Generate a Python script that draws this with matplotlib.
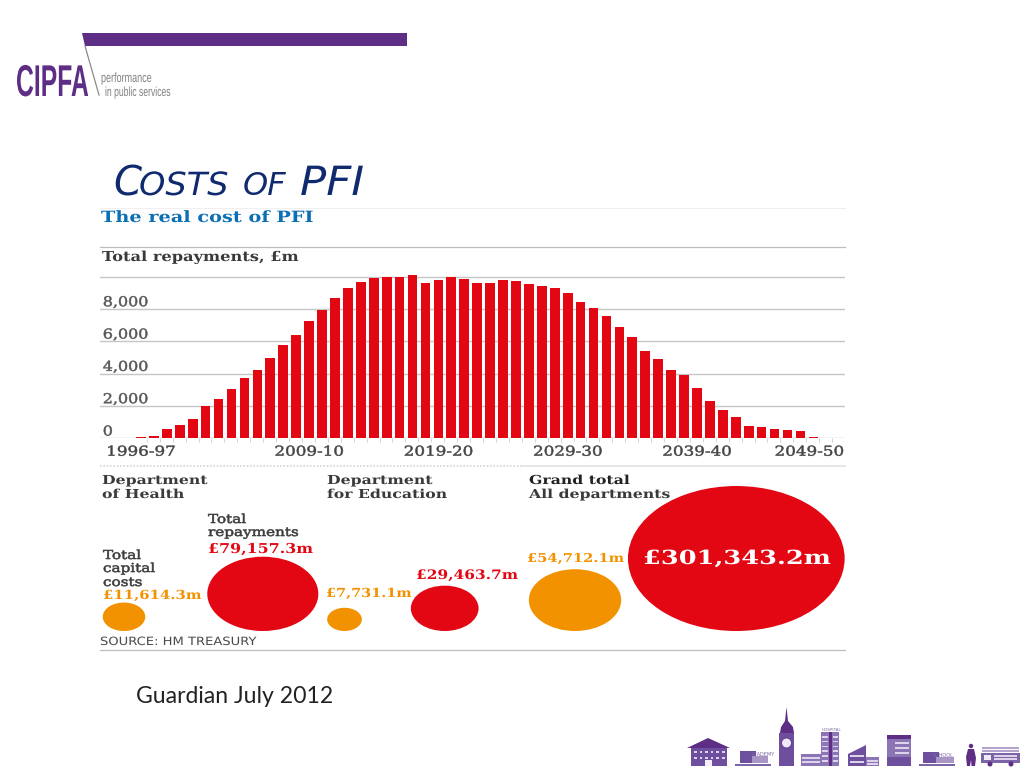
import matplotlib
matplotlib.use("Agg")
import matplotlib.pyplot as plt
from matplotlib.patches import Ellipse, Polygon, Rectangle, Circle
from matplotlib.patheffects import AbstractPathEffect
from matplotlib.transforms import Affine2D, ScaledTranslation
import numpy as np

# ---- data ----
repayments = [50, 150, 600, 850, 1200, 2000, 2430, 3030, 3710, 4200, 4970, 5750, 6410, 7260,
              7960, 8680, 9280, 9650, 9900, 9980, 9960, 10100, 9610, 9790, 9960, 9860, 9630, 9640,
              9790, 9750, 9530, 9420, 9300, 9010, 8460, 8045, 7570, 6910, 6255, 5410, 4900, 4200,
              3910, 3130, 2280, 1770, 1340, 760, 680, 580, 530, 470, 50, 20]
year_labels = ["1996-97", "2009-10", "2019-20", "2029-30", "2039-40", "2049-50"]
year_label_bars = [0, 13, 23, 33, 43, 53]
y_labels = ["0", "2,000", "4,000", "6,000", "8,000", ""]
y_ticks = [0, 2000, 4000, 6000, 8000, 10000]
bubble_values = [11614.3, 79157.3, 7731.1, 29463.7, 54712.1, 301343.2]
bubble_labels = ["£11,614.3m", "£79,157.3m", "£7,731.1m", "£29,463.7m", "£54,712.1m", "£301,343.2m"]

# ---- layout / style ----
RED = "#e30613"
ORANGE = "#f39200"
BLUE = "#0b6fb3"
INK = "#3a3a3a"
PURPLE = "#5e2d86"
SLATE = "#6d4f9e"
NAVY = "#0f2a6e"
SERIF = "DejaVu Serif"
LOGO = "Liberation Sans"
W, H = 1024, 768
bubble_kinds = [ORANGE, RED, ORANGE, RED, ORANGE, RED]
bubble_centres = [124, 262.8, 344.5, 444.7, 575, 736.3]
bubble_floor = 631
k_w, k_h = 0.3947, 0.2641


class Stretch(AbstractPathEffect):
    """Stretch real text, as the source graphic was stretched; optional slight emboldening."""

    def __init__(self, sx=1.0, sy=1.0, centre=False, lw=0.0):
        super().__init__()
        self.sx, self.sy, self.centre, self.lw = sx, sy, centre, lw

    def draw_path(self, renderer, gc, tpath, affine, rgbFace=None):
        cx = 0.0
        if self.centre and len(tpath.vertices):
            cx = 0.5 * (tpath.vertices[:, 0].min() + tpath.vertices[:, 0].max())
        pre = Affine2D().translate(-cx, 0).scale(self.sx, self.sy).translate(cx, 0)
        g = renderer.new_gc()
        g.copy_properties(gc)
        if self.lw:
            g.set_linewidth(self.lw)
            g.set_foreground(rgbFace)
        renderer.draw_path(g, tpath, pre + affine, rgbFace)
        g.restore()


fig = plt.figure(figsize=(W / 100, H / 100), dpi=100, facecolor="white")

# overlay in pixel coordinates
ov = fig.add_axes([0, 0, 1, 1], zorder=0)
ov.set_xlim(0, W)
ov.set_ylim(H, 0)
ov.axis("off")


def T(x, y, s, size=10, color=INK, weight="normal", family=SERIF, sx=1.0, sy=1.0, lw=0.0, **kw):
    kw.setdefault("ha", "left")
    kw.setdefault("va", "baseline")
    t = ov.text(x, y, s, fontsize=size, color=color, fontweight=weight, family=family, **kw)
    if sx != 1.0 or sy != 1.0 or lw:
        t.set_path_effects([Stretch(sx, sy, lw=lw)])
    return t


# ---- bar chart axes ----
left, right, base, top_val_px = 100, 845, 438.3, 276.7
px_per = (base - top_val_px) / 10000
ymax = 10500
top = base - ymax * px_per
ax = fig.add_axes([left / W, 1 - base / H, (right - left) / W, (base - top) / H], zorder=2)
ax.patch.set_alpha(0)
step, first = 12.93, 141
ax.set_xlim((left - first) / step, (right - first) / step)
ax.set_ylim(0, ymax)
ax.bar(range(len(repayments)), repayments, width=0.75, color=RED, linewidth=0, zorder=3)
for s in ax.spines.values():
    s.set_visible(False)
ax.set_yticks(y_ticks)
ax.set_yticklabels(y_labels, fontsize=9.8, family=SERIF, color="#555555", ha="left", va="baseline")
ax.tick_params(axis="y", length=0, pad=-2)
up = ScaledTranslation(0, 2.8 / 100, fig.dpi_scale_trans)
for lab in ax.get_yticklabels():
    lab.set_transform(lab.get_transform() + up)
    lab.set_path_effects([Stretch(1.17, lw=0.35)])
ax.grid(axis="y", color="#c6c6c6", linewidth=1.0, zorder=1)
ax.set_axisbelow(True)
ax.set_xticks(year_label_bars)
ax.set_xticklabels(year_labels, fontsize=9.8, family=SERIF, color="#444444", va="baseline")
ax.set_xticks(np.arange(len(repayments)) + 0.45, minor=True)
ax.tick_params(axis="x", which="major", length=0, pad=12.5)
ax.tick_params(axis="x", which="minor", length=3, width=0.7, color="#d4d4d4")
for lab in ax.get_xticklabels():
    lab.set_path_effects([Stretch(1.23, centre=True, lw=0.35)])
shift = ScaledTranslation(-17 / 100, 0, fig.dpi_scale_trans)
lab = ax.get_xticklabels()[-1]
lab.set_transform(lab.get_transform() + shift)

# ---- rules ----
ov.plot([100, 845], [207.5, 207.5], color="#efefef", lw=0.8)
ov.plot([100, 845], [246.7, 246.7], color="#bdbdbd", lw=0.9)
ov.plot([100, 522], [465.5, 465.5], color="#d5d5d5", lw=1.2, ls=(0, (1, 1)))
ov.plot([522, 845], [465.5, 465.5], color="#e6e6e6", lw=1.4)
ov.plot([100, 845], [649.7, 649.7], color="#bdbdbd", lw=0.9)

# ---- bubbles ----
for v, cx, c in zip(bubble_values, bubble_centres, bubble_kinds):
    w, h = k_w * np.sqrt(v), k_h * np.sqrt(v)
    ov.add_patch(Ellipse((cx, bubble_floor - h / 2), w, h, facecolor=c, edgecolor="none", zorder=2))

# ---- chart texts ----
T(101, 222, "The real cost of PFI", 11.2, BLUE, "bold", sx=1.24)
T(102, 261, "Total repayments, £m", 9.9, INK, "semibold", sx=1.18)
T(102, 484, "Department", 8.9, INK, "bold", sx=1.27)
T(102, 498, "of Health", 8.9, INK, "bold", sx=1.27)
T(327, 484, "Department", 8.9, INK, "bold", sx=1.27)
T(327, 498, "for Education", 8.9, INK, "bold", sx=1.27)
T(529, 484, "Grand total", 8.9, "#222222", "bold", sx=1.27)
T(529, 498, "All departments", 8.9, INK, "bold", sx=1.27)
T(208, 523, "Total", 8.9, INK, sx=1.23, lw=0.4)
T(208, 536, "repayments", 8.9, INK, sx=1.23, lw=0.4)
T(103, 559, "Total", 8.9, INK, sx=1.23, lw=0.4)
T(103, 572, "capital", 8.9, INK, sx=1.23, lw=0.4)
T(103, 586, "costs", 8.9, INK, sx=1.23, lw=0.4)
T(103, 599, bubble_labels[0], 9, ORANGE, "bold", sx=1.19)
T(208, 553, bubble_labels[1], 9.8, RED, "bold", sx=1.165)
T(326, 597, bubble_labels[2], 9, ORANGE, "bold", sx=1.155)
T(416, 579, bubble_labels[3], 9.4, RED, "bold", sx=1.18)
T(527, 562, bubble_labels[4], 8.8, ORANGE, "bold", sx=1.2)
T(643, 564, bubble_labels[5], 14, "white", "bold", sx=1.32, zorder=3)
T(100, 645, "SOURCE: HM TREASURY", 8.2, "#4a4a4a", family="DejaVu Sans", sx=1.15)

# ---- slide title / footer ----
OBL = dict(family="DejaVu Sans", style="oblique")
ov.text(113, 195, "C", fontsize=29, color=NAVY, **OBL)
ov.text(139, 195, "OSTS", fontsize=23, color=NAVY, path_effects=[Stretch(1.05)], **OBL)
ov.text(243, 195, "OF", fontsize=23, color=NAVY, **OBL)
ov.text(300, 195, "PFI", fontsize=29, color=NAVY, path_effects=[Stretch(1.08)], **OBL)
T(136, 703, "Guardian July 2012", 16.6, "#222222", family="Lato")

# ---- logo ----
ov.add_patch(Polygon([(82, 32.7), (407, 32.7), (407, 45.7), (85, 45.7)], facecolor=PURPLE, edgecolor="none"))
ov.plot([85, 99], [46, 95], color="#8a8a8a", lw=0.9)
T(16, 96, "CIPFA", 17.8, PURPLE, "bold", family=LOGO, sy=1.8)
T(101, 82, "performance", 6.5, "#808080", family=LOGO, sy=1.47)
T(105, 96, "in public services", 6.2, "#808080", family=LOGO, sy=1.54)


# ---- skyline ----
def R(x0, y0, x1, y1, c=SLATE):
    ov.add_patch(Rectangle((x0, y0), x1 - x0, y1 - y0, facecolor=c, edgecolor="none"))


def P(pts, c=SLATE):
    ov.add_patch(Polygon(pts, facecolor=c, edgecolor="none"))


def windows(x0, x1, y0, y1, nx, ny, c="#ddd3ea"):
    for yy in np.linspace(y0, y1, ny):
        for xx in np.linspace(x0, x1, nx):
            R(xx, yy, xx + 2.5, yy + 2, c)


def bands(x0, x1, y0, y1, n, c="#ddd3ea"):
    for yy in np.linspace(y0, y1, n):
        R(x0, yy, x1, yy + 1.6, c)


# town hall
P([(687, 748), (708, 738), (730, 748)], PURPLE)
R(691, 748, 727, 766)
windows(694, 722, 751, 757, 6, 2)
R(705, 760, 712, 766, "#f3eef8")
# academy
R(740, 751, 756, 763)
R(752, 756, 768, 763, "#a995c6")
R(735, 764, 771, 765.5, "#7d64a8")
T(751, 756, "ACADEMY", 3.6, "#7d64a8", family="DejaVu Sans")
# big ben
P([(786.5, 707), (785, 721), (781, 727), (780, 733), (794, 733), (793, 727), (788, 721)], PURPLE)
R(779, 733, 794, 766, SLATE)
ov.add_patch(Circle((786.5, 743), 5, facecolor="#efeaf5", edgecolor=PURPLE, lw=0.6))
# hospital
R(821, 732, 839, 766, "#8c75b4")
R(829, 732, 832, 766, PURPLE)
bands(822, 828, 736, 760, 6)
bands(833, 838, 736, 760, 6)
R(801, 754, 822, 766, "#8c75b4")
bands(802, 820, 757, 761, 2)
T(822, 731, "HOSPITAL", 3.0, "#7d64a8", family="DejaVu Sans")
# angular block
P([(848, 766), (848, 754), (866, 745), (866, 766)], SLATE)
R(866, 757, 879, 766, "#8c75b4")
bands(850, 864, 755, 761, 2)
bands(867, 878, 760, 763, 2)
# tall block
R(887, 735, 911, 739, PURPLE)
R(887, 739, 911, 766, "#8c75b4")
R(887, 757, 911, 766, SLATE)
bands(895, 909, 742, 752, 3)
# school
R(923, 752, 939, 763)
R(936, 757, 954, 763, "#a995c6")
R(919, 764, 955, 765.5, "#7d64a8")
T(933, 757, "SCHOOL", 3.6, "#7d64a8", family="DejaVu Sans")
# firefighter
ov.add_patch(Circle((971, 746), 2.2, facecolor=PURPLE, edgecolor="none"))
P([(968, 749), (974, 749), (976, 758), (975, 766), (971.5, 766), (971, 760), (970, 766), (967, 766), (966, 757)], PURPLE)
# fire engine
bands(982, 1019, 747, 750, 2, "#b3a3cf")
R(981, 753, 1020, 763, "#7d64a8")
R(984, 755, 991, 760, "#f1ecf7")
bands(994, 1017, 755, 758, 2, "#ddd3ea")
ov.add_patch(Circle((990, 764), 2.5, facecolor=PURPLE, edgecolor="none"))
ov.add_patch(Circle((1011, 764), 2.5, facecolor=PURPLE, edgecolor="none"))

fig.savefig("out.png", dpi=100, facecolor="white")
